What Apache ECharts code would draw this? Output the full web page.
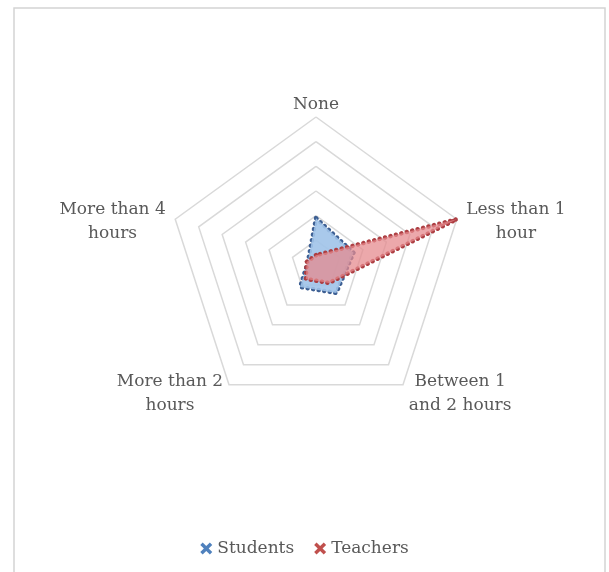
<!DOCTYPE html>
<html>
<head>
<meta charset="utf-8">
<script src="https://cdn.jsdelivr.net/npm/echarts@6/dist/echarts.min.js"></script>
<style>
html,body{margin:0;padding:0;background:#fff;}
#chart{width:609px;height:572px;}
</style>
</head>
<body>
<div id="chart"></div>
<script>
// Indicators in drawing order (top, then counter-clockwise)
var categories = ['None', 'More than 4\nhours', 'More than 2\nhours', 'Between 1\nand 2 hours', 'Less than 1\nhour'];
var seriesNames = ['Students', 'Teachers'];
var students = [19, 3.5, 11, 14, 16];
var teachers = [4, 4, 7, 9, 60];
var axisMax = 60;

var FONT = 'DejaVu Serif';
var chart = echarts.init(document.getElementById('chart'), null, {renderer: 'canvas'});
var legendIcon = 'path://M2,0 L5,3 L8,0 L10,2 L7,5 L10,8 L8,10 L5,7 L2,10 L0,8 L3,5 L0,2 Z';

// label style key per indicator position (top / upper sides / lower sides)
function labelKey(idx) {
  if (idx === 0) return 't';
  if (idx === 1 || idx === 4) return 'u';
  return 'd';
}

var baseRich = {lineHeight: 24, fontFamily: FONT, fontSize: 17, color: '#595959', align: 'center'};

chart.setOption({
  animation: false,
  backgroundColor: '#ffffff',
  graphic: [{
    type: 'rect',
    shape: {x: 14, y: 8, width: 591, height: 580},
    style: {fill: 'none', stroke: '#d4d4d4', lineWidth: 1.5},
    silent: true
  }],
  legend: {
    data: seriesNames.map(function (n, i) {
      return {name: n, icon: legendIcon, itemStyle: {color: i === 0 ? '#4f81bd' : '#c0504d'}};
    }),
    top: 535,
    left: 'center',
    itemWidth: 12,
    itemHeight: 12,
    itemGap: 20,
    textStyle: {fontFamily: FONT, fontSize: 17, color: '#595959'}
  },
  radar: {
    center: [316, 265],
    radius: 148,
    startAngle: 90,
    splitNumber: 6,
    shape: 'polygon',
    indicator: categories.map(function (c) { return {name: c, max: axisMax, min: 0}; }),
    axisName: {
      color: '#595959',
      fontFamily: FONT,
      fontSize: 17,
      formatter: function (name) {
        var k = labelKey(categories.indexOf(name));
        return name.split('\n').map(function (l) { return '{' + k + '|' + l + '}'; }).join('\n');
      },
      rich: {
        t: Object.assign({}, baseRich, {padding: [20, 0, 0, 0]}),
        u: Object.assign({}, baseRich, {padding: [10, 0, 0, 0]}),
        d: Object.assign({}, baseRich, {padding: [2, 0, 0, 0]})
      }
    },
    nameGap: 10,
    axisLine: {show: false},
    axisTick: {show: false},
    axisLabel: {show: false},
    splitArea: {show: false},
    splitLine: {lineStyle: {color: '#d9d9d9', width: 1.5}}
  },
  series: [{
    type: 'radar',
    symbol: 'none',
    data: [{
      name: seriesNames[0],
      value: students,
      lineStyle: {color: '#3d5f93', width: 4.5, type: [0.1, 5.5], cap: 'round'},
      areaStyle: {color: '#a0c3e9', opacity: 0.9},
      itemStyle: {color: '#4f81bd'}
    }, {
      name: seriesNames[1],
      value: teachers,
      lineStyle: {color: '#ad3f43', width: 4.5, type: [0.1, 5.5], cap: 'round'},
      areaStyle: {color: '#e68a8d', opacity: 0.74},
      itemStyle: {color: '#c0504d'}
    }]
  }]
});
</script>
</body>
</html>
